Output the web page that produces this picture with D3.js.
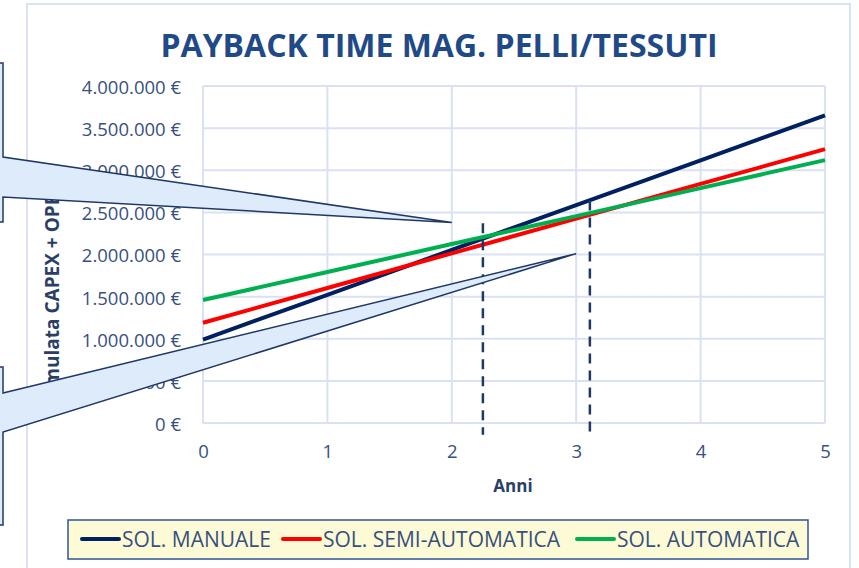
<!DOCTYPE html>
<html>
<head>
<meta charset="utf-8">
<script src="https://cdn.jsdelivr.net/npm/d3@7"></script>
<style>
  body { margin: 0; background: #fff; }
  svg { display: block; font-family: "Open Sans", "Noto Sans", sans-serif; }
</style>
</head>
<body>
<svg id="chart" width="859" height="568"></svg>
<script>
// Chart data
const years = [0, 1, 2, 3, 4, 5];
const manuale = [990000, 1522000, 2054000, 2586000, 3118000, 3650000];
const semiAuto = [1190000, 1602000, 2014000, 2426000, 2838000, 3250000];
const automatica = [1460000, 1792000, 2124000, 2456000, 2788000, 3120000];
const seriesNames = ["SOL. MANUALE", "SOL. SEMI-AUTOMATICA", "SOL. AUTOMATICA"];
const yTicks = [0, 500000, 1000000, 1500000, 2000000, 2500000, 3000000, 3500000, 4000000];

// payback markers (dashed) and callout tips, in data units
const paybackX = [2.25, 3.11];
const paybackTop = [2370000, 2640000];
const calloutTipX = [2, 3];
const calloutTipY = [2380000, 2010000];

const colors = ["#002060", "#ff0000", "#00b050"];
const textBlue = "#38507f";

const svg = d3.select("#chart");

// outer chart border
svg.append("rect")
  .attr("x", 27).attr("y", 4)
  .attr("width", 823).attr("height", 600)
  .attr("fill", "none")
  .attr("stroke", "#d9e1f2")
  .attr("stroke-width", 2);

const plot = { left: 203, right: 825, top: 86, bottom: 423 };

const x = d3.scaleLinear().domain([0, 5]).range([plot.left, plot.right]);
const y = d3.scaleLinear().domain([0, 4000000]).range([plot.bottom, plot.top]);

// title
svg.append("text")
  .attr("x", 439).attr("y", 57)
  .attr("text-anchor", "middle")
  .attr("font-size", 32)
  .attr("font-weight", "bold")
  .attr("fill", "#1f4a87")
  .text("PAYBACK TIME MAG. PELLI/TESSUTI");

// grid
const g = svg.append("g");
g.append("g")
  .selectAll("line")
  .data(yTicks)
  .join("line")
  .attr("x1", plot.left).attr("x2", plot.right)
  .attr("y1", (d) => y(d)).attr("y2", (d) => y(d))
  .attr("stroke", "#d9e1f2").attr("stroke-width", 2);
g.append("g")
  .selectAll("line")
  .data(years)
  .join("line")
  .attr("x1", (d) => x(d)).attr("x2", (d) => x(d))
  .attr("y1", plot.top).attr("y2", plot.bottom)
  .attr("stroke", "#d9e1f2").attr("stroke-width", 2);

// axes
const locale = d3.formatLocale({ decimal: ",", thousands: ".", grouping: [3], currency: ["", " €"] });
const fmt = locale.format(",.0f");

const yAxis = svg.append("g")
  .attr("transform", `translate(${plot.left},0)`)
  .call(d3.axisLeft(y).tickValues(yTicks).tickSize(0).tickPadding(22).tickFormat((d) => fmt(d) + " €"));
yAxis.select(".domain").remove();
yAxis.selectAll("text")
  .attr("font-size", 18.5)
  .attr("font-family", "'Open Sans', sans-serif")
  .attr("fill", textBlue)
  .attr("dy", "0.4em");

const xAxis = svg.append("g")
  .attr("transform", `translate(0,${plot.bottom})`)
  .call(d3.axisBottom(x).tickValues(years).tickSize(0).tickPadding(22).tickFormat(d3.format("d")));
xAxis.select(".domain").remove();
xAxis.selectAll("text")
  .attr("font-size", 18.5)
  .attr("font-family", "'Open Sans', sans-serif")
  .attr("fill", textBlue);

// axis titles
svg.append("text")
  .attr("x", 513).attr("y", 492)
  .attr("text-anchor", "middle")
  .attr("font-size", 17)
  .attr("font-weight", "bold")
  .attr("fill", "#2b3f66")
  .text("Anni");

// y title is partly hidden behind the callouts, as in the original
svg.append("text")
  .attr("transform", "translate(59,182) rotate(-90)")
  .attr("text-anchor", "end")
  .attr("font-size", 19)
  .attr("font-weight", "bold")
  .attr("fill", "#2b3f66")
  .text("Cumulata CAPEX + OPEX");

// series lines
const allSeries = [manuale, semiAuto, automatica];
const line = d3.line().x((d, i) => x(years[i])).y((d) => y(d));
svg.append("g")
  .selectAll("path")
  .data(allSeries)
  .join("path")
  .attr("d", (d) => line(d))
  .attr("fill", "none")
  .attr("stroke", (d, i) => colors[i])
  .attr("stroke-width", 4);

// payback dashed markers
svg.append("g")
  .selectAll("line")
  .data(paybackX)
  .join("line")
  .attr("x1", (d) => x(d)).attr("x2", (d) => x(d))
  .attr("y1", (d, i) => y(paybackTop[i]))
  .attr("y2", y(-140000))
  .attr("stroke", "#1f3864")
  .attr("stroke-width", 2.5)
  .attr("stroke-dasharray", "10,7");

// callouts (text boxes sit outside the visible area on the left)
const callouts = [
  { top: 63, bottom: 222, b1: 157, b2: 197 },
  { top: 367, bottom: 525, b1: 393, b2: 432 }
];
callouts.forEach((c, i) => {
  const tx = x(calloutTipX[i]);
  const ty = y(calloutTipY[i]);
  const pts = [
    [-300, c.top], [3, c.top], [3, c.b1], [tx, ty], [3, c.b2], [3, c.bottom], [-300, c.bottom]
  ];
  svg.append("path")
    .attr("d", d3.line()(pts) + "Z")
    .attr("fill", "#deebfb")
    .attr("stroke", "#1f3864")
    .attr("stroke-width", 1.5)
    .attr("stroke-linejoin", "miter");
});

// legend
const legend = svg.append("g");
legend.append("rect")
  .attr("x", 68).attr("y", 520)
  .attr("width", 740).attr("height", 39)
  .attr("fill", "#fdfbd6")
  .attr("stroke", "#2f5597")
  .attr("stroke-width", 1.5);

const legendX = [82, 283, 577];
const item = legend.selectAll("g.item")
  .data(seriesNames)
  .join("g")
  .attr("class", "item")
  .attr("transform", (d, i) => `translate(${legendX[i]},539)`);
item.append("line")
  .attr("x1", 0).attr("x2", 37)
  .attr("stroke", (d, i) => colors[i])
  .attr("stroke-width", 4)
  .attr("stroke-linecap", "round");
item.append("text")
  .attr("x", 40).attr("y", 7.5)
  .attr("font-size", 21)
  .attr("fill", textBlue)
  .text((d) => d);
</script>
</body>
</html>
